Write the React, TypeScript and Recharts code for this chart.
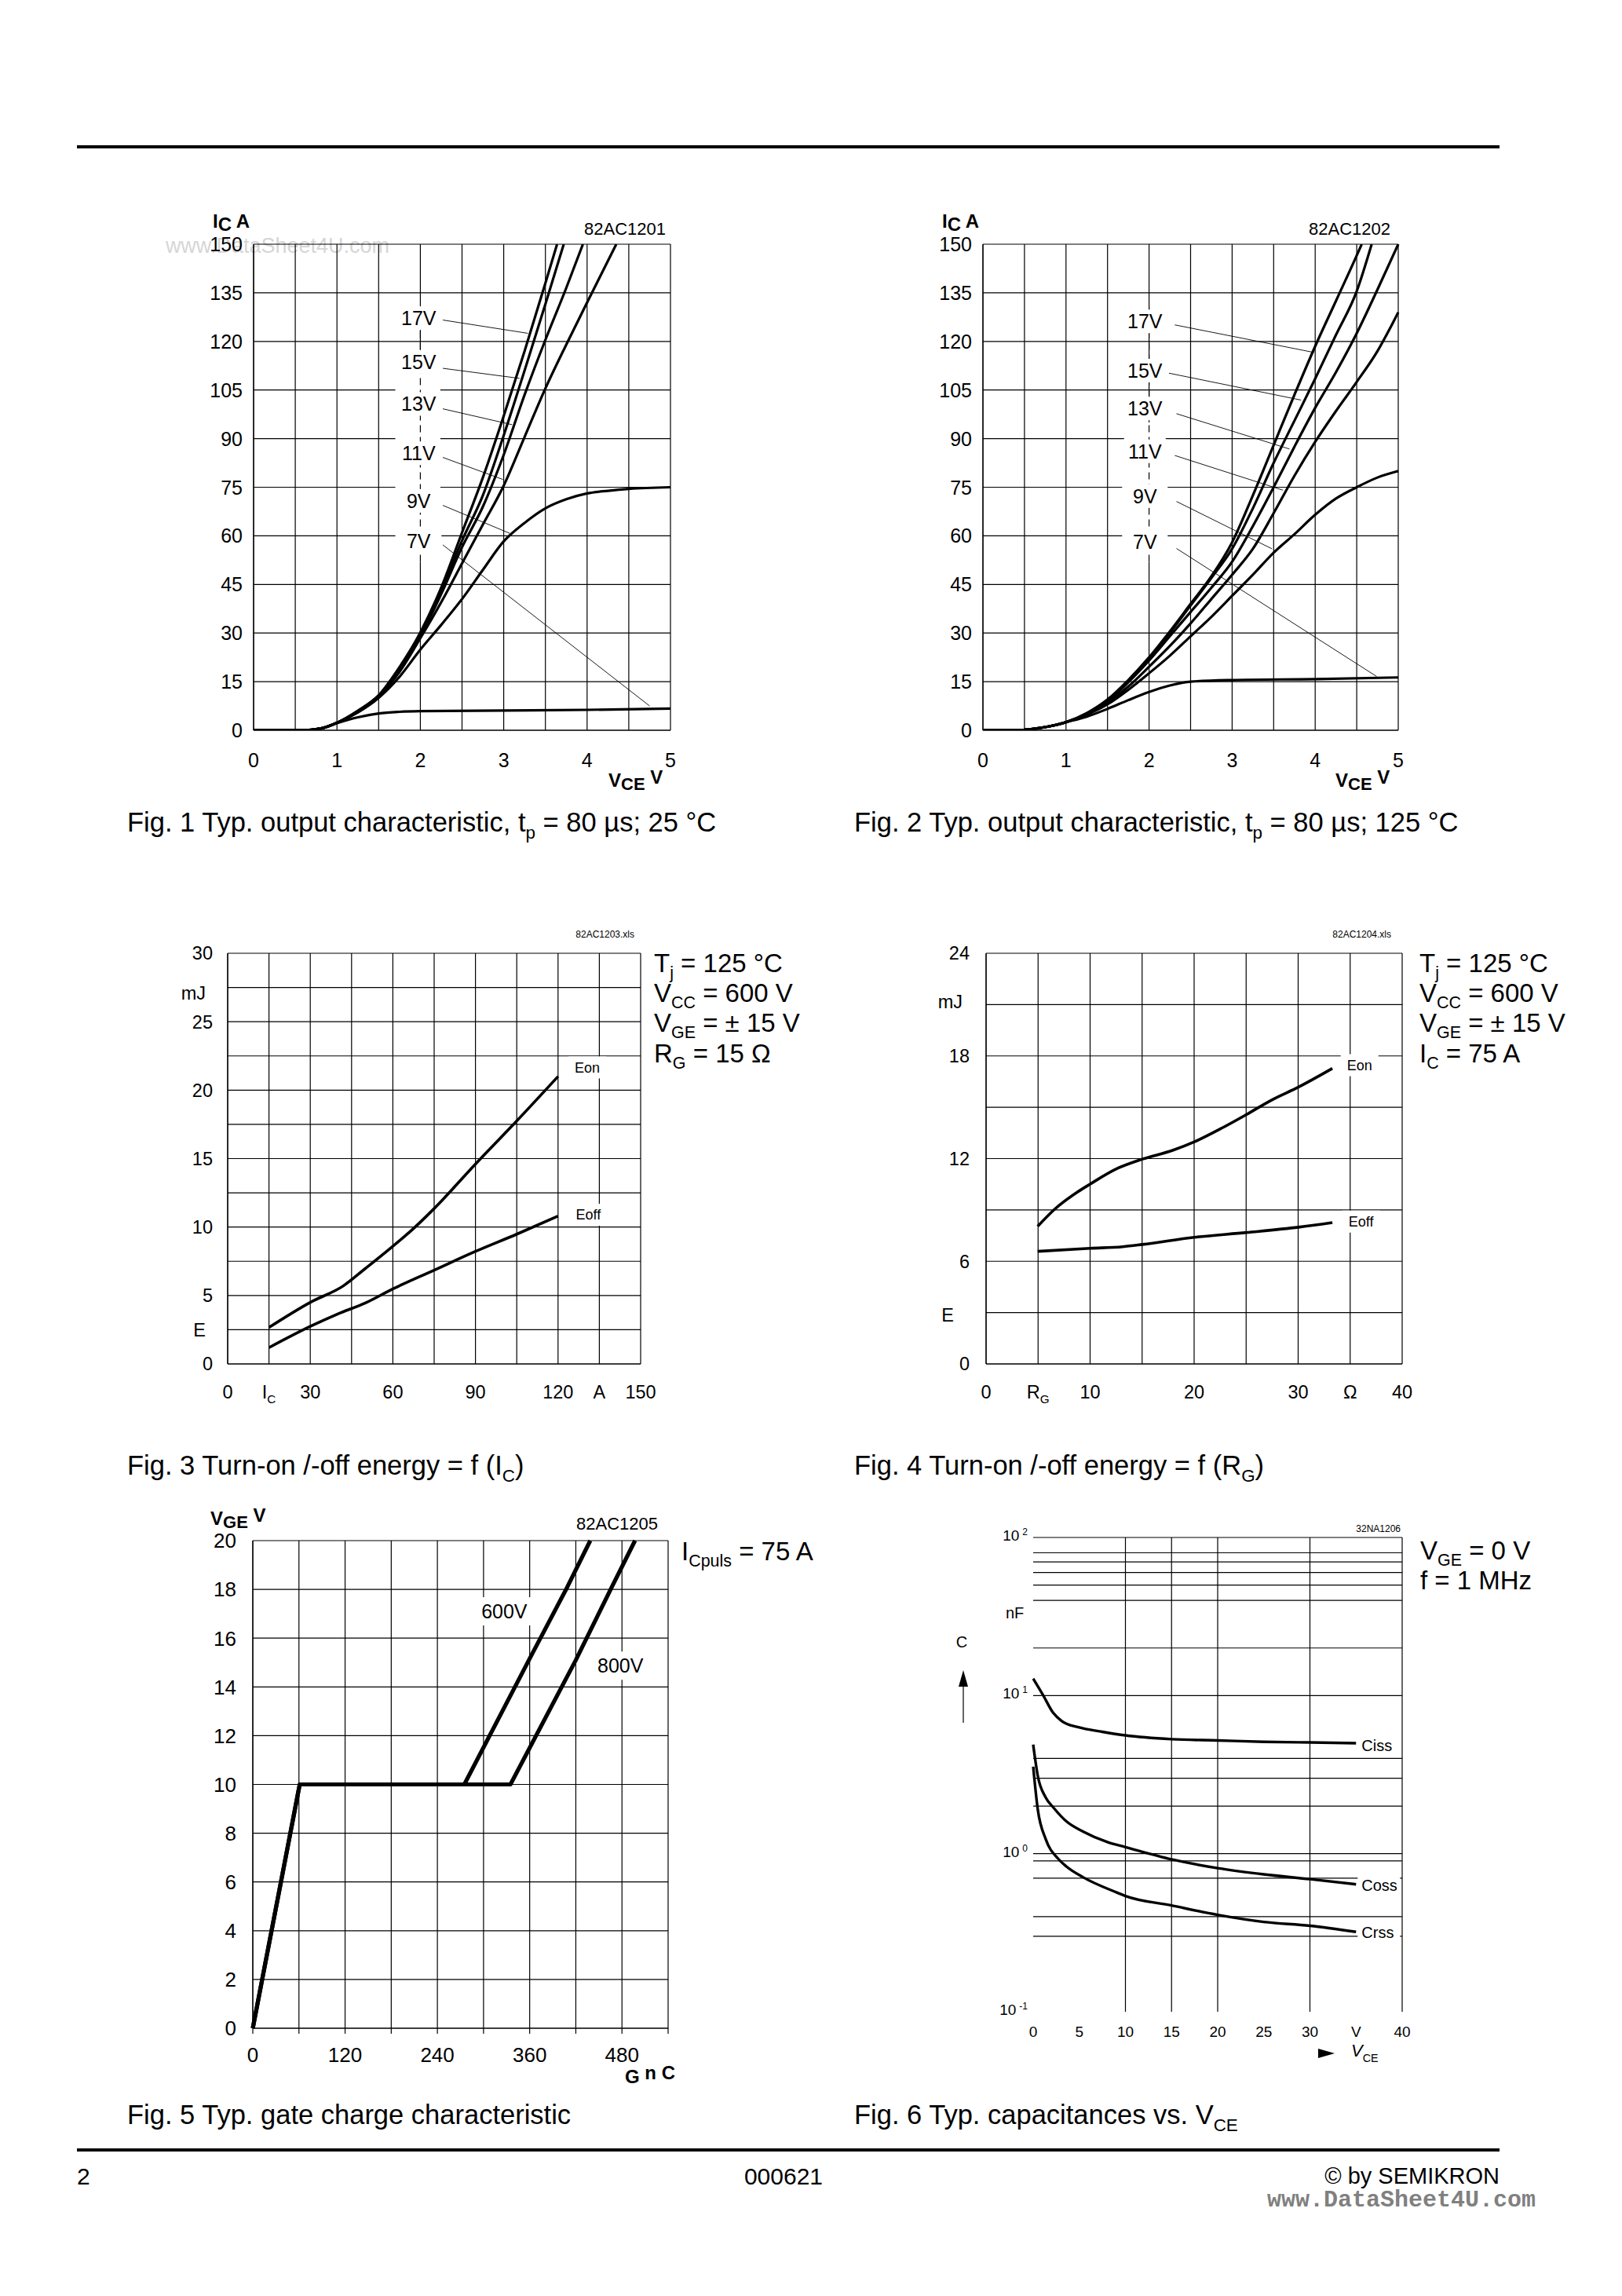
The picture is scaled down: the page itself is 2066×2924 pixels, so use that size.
import React from "react";
import { LineChart, Line, XAxis, YAxis, CartesianGrid, ReferenceLine, ReferenceDot, ReferenceArea } from "recharts";

const FONT = "'Liberation Sans', Arial, Helvetica, sans-serif";
const MONO = "'Liberation Mono', 'DejaVu Sans Mono', monospace";

type Pt = [number, number];

// ---------- Fig. 1  output characteristic 25 °C  (VCE in V, IC in A)
const fig1XTicks = [0, 0.5, 1, 1.5, 2, 2.5, 3, 3.5, 4, 4.5, 5];
const fig1YTicks = [0, 15, 30, 45, 60, 75, 90, 105, 120, 135, 150];
const fig1V17: Pt[] = [[0, 0], [0.6, 0], [0.8, 0.5], [1, 2.3], [1.25, 6], [1.5, 10.8], [1.75, 19.5], [2, 30.2], [2.25, 44], [2.5, 61], [2.75, 78], [3, 97], [3.25, 117], [3.5, 138], [3.64, 150]];
const fig1V15: Pt[] = [[0, 0], [0.6, 0], [0.8, 0.5], [1, 2.3], [1.25, 6], [1.5, 10.7], [1.75, 19.3], [2, 29.6], [2.25, 43], [2.5, 58.5], [2.75, 72.5], [3, 91], [3.25, 111], [3.5, 131.5], [3.72, 150]];
const fig1V13: Pt[] = [[0, 0], [0.6, 0], [0.8, 0.5], [1, 2.3], [1.25, 5.9], [1.5, 10.6], [1.75, 19], [2, 29], [2.25, 42], [2.5, 56.5], [2.75, 69], [3, 85], [3.25, 103.5], [3.5, 120.5], [3.75, 136.5], [3.95, 150]];
const fig1V11: Pt[] = [[0, 0], [0.6, 0], [0.8, 0.5], [1, 2.3], [1.25, 5.8], [1.5, 10.5], [1.75, 18], [2, 28.4], [2.25, 39.5], [2.5, 51.5], [2.75, 63.5], [3, 75.5], [3.25, 90.5], [3.5, 105.5], [3.75, 119], [4, 132], [4.35, 150]];
const fig1V9: Pt[] = [[0, 0], [0.6, 0], [0.8, 0.5], [1, 2.3], [1.25, 5.5], [1.5, 10], [1.75, 16.5], [2, 24.9], [2.25, 32.5], [2.5, 40.5], [2.75, 49.5], [3, 58.3], [3.25, 64], [3.5, 68.5], [3.75, 71.3], [4, 73.1], [4.25, 73.9], [4.5, 74.5], [5, 75]];
const fig1V7: Pt[] = [[0, 0], [0.6, 0], [0.8, 0.5], [1, 2.2], [1.25, 4], [1.5, 5.2], [1.75, 5.7], [2, 5.9], [3, 6.1], [4, 6.3], [5, 6.7]];
const fig1Labels = ["17V", "15V", "13V", "11V", "9V", "7V"];
const fig1LabelX = 1.98;
const fig1LabelY = [127.2, 113.7, 100.7, 85.5, 70.8, 58.3];
const fig1Leaders: Pt[][] = [
  [[2.27, 126.6], [3.29, 122.5]],
  [[2.27, 111.7], [3.19, 108.6]],
  [[2.27, 99.2], [3.1, 94.3]],
  [[2.27, 84.2], [2.99, 77.4]],
  [[2.27, 69.4], [3.07, 60.8]],
  [[2.27, 57.2], [4.75, 7.5]],
];

// ---------- Fig. 2  output characteristic 125 °C
const fig2V17: Pt[] = [[0, 0], [0.4, 0], [0.6, 0.4], [0.8, 1.2], [1, 2.5], [1.25, 5.3], [1.5, 9.5], [1.75, 15.5], [2, 22.5], [2.25, 30.5], [2.5, 39], [2.75, 47.5], [3, 58], [3.25, 72.5], [3.5, 88], [3.75, 103.5], [4, 118.5], [4.25, 132.5], [4.5, 146.5], [4.56, 150]];
const fig2V15: Pt[] = [[0, 0], [0.4, 0], [0.6, 0.4], [0.8, 1.2], [1, 2.5], [1.25, 5.2], [1.5, 9.3], [1.75, 15.2], [2, 22], [2.25, 30], [2.5, 38.5], [2.75, 47], [3, 56], [3.25, 68.5], [3.5, 82.5], [3.75, 95.5], [4, 108.5], [4.25, 122], [4.5, 135.5], [4.68, 150]];
const fig2V13: Pt[] = [[0, 0], [0.4, 0], [0.6, 0.4], [0.8, 1.2], [1, 2.5], [1.25, 5.1], [1.5, 9], [1.75, 14.8], [2, 21.5], [2.25, 29], [2.5, 36.5], [2.75, 44], [3, 52], [3.25, 63], [3.5, 75], [3.75, 87.5], [4, 99.5], [4.25, 110.5], [4.5, 122.5], [4.75, 136], [5, 150]];
const fig2V11: Pt[] = [[0, 0], [0.4, 0], [0.6, 0.4], [0.8, 1.2], [1, 2.5], [1.25, 5], [1.5, 8.5], [1.75, 13.5], [2, 19.6], [2.25, 26], [2.5, 33], [2.75, 40.5], [3, 48], [3.25, 56], [3.5, 67], [3.75, 78.5], [4, 89], [4.25, 98.5], [4.5, 107.5], [4.75, 117], [4.9, 124], [5, 129]];
const fig2V9: Pt[] = [[0, 0], [0.4, 0], [0.6, 0.4], [0.8, 1.2], [1, 2.5], [1.25, 4.8], [1.5, 8], [1.75, 12.5], [2, 17.6], [2.25, 23], [2.5, 29], [2.75, 35], [3, 41.5], [3.25, 48], [3.5, 54.8], [3.75, 60.5], [4, 66.5], [4.25, 71.5], [4.5, 75], [4.75, 78], [5, 80]];
const fig2V7: Pt[] = [[0, 0], [0.4, 0], [0.6, 0.4], [0.8, 1.2], [1, 2.5], [1.25, 4.2], [1.5, 6.6], [1.75, 9.3], [2, 11.8], [2.25, 13.8], [2.5, 15], [3, 15.5], [4, 15.8], [5, 16.3]];
const fig2LabelX = 1.95;
const fig2LabelY = [126.2, 111.0, 99.3, 86.1, 72.3, 58.2];
const fig2Leaders: Pt[][] = [
  [[2.31, 125.1], [3.985, 116.6]],
  [[2.24, 110.2], [3.83, 101.9]],
  [[2.33, 97.7], [3.69, 86.8]],
  [[2.31, 84.8], [3.61, 74.1]],
  [[2.33, 70.6], [3.48, 56]],
  [[2.33, 56.1], [4.74, 16.6]],
];

// ---------- Fig. 3  E = f(IC)
const fig3XTicks = [0, 15, 30, 45, 60, 75, 90, 105, 120, 135, 150];
const fig3YTicks = [0, 2.5, 5, 7.5, 10, 12.5, 15, 17.5, 20, 22.5, 25, 27.5, 30];
const fig3XText: Record<string, string> = { 0: "0", 15: "I_C", 30: "30", 60: "60", 90: "90", 120: "120", 135: "A", 150: "150" };
const fig3YText: Record<string, string> = { 0: "0", 2.5: "E", 5: "5", 10: "10", 15: "15", 20: "20", 25: "25", 27.5: "mJ", 30: "30" };
const fig3Eon: Pt[] = [[15, 2.67], [30, 4.5], [42, 5.7], [50, 6.97], [60, 8.6], [67, 9.8], [75, 11.35], [90, 14.6], [105, 17.75], [120, 21]];
const fig3Eoff: Pt[] = [[15, 1.19], [30, 2.74], [40, 3.65], [50, 4.45], [60, 5.48], [75, 6.85], [90, 8.22], [105, 9.48], [120, 10.8]];

// ---------- Fig. 4  E = f(RG)
const fig4XTicks = [0, 5, 10, 15, 20, 25, 30, 35, 40];
const fig4YTicks = [0, 3, 6, 9, 12, 15, 18, 21, 24];
const fig4XText: Record<string, string> = { 0: "0", 5: "R_G", 10: "10", 20: "20", 30: "30", 35: "Ω", 40: "40" };
const fig4YText: Record<string, string> = { 0: "0", 3: "E", 6: "6", 12: "12", 18: "18", 21: "mJ", 24: "24" };
const fig4Eon: Pt[] = [[4.96, 8.04], [6.61, 9.05], [8.79, 10.05], [10, 10.51], [12.71, 11.45], [15.01, 11.97], [17.93, 12.48], [20.02, 12.98], [22.72, 13.8], [25.02, 14.57], [27.5, 15.44], [30.03, 16.18], [33.29, 17.27]];
const fig4Eoff: Pt[] = [[4.96, 6.58], [10, 6.76], [13.14, 6.85], [15.01, 6.98], [20.02, 7.4], [25.02, 7.68], [30.03, 7.99], [33.29, 8.26]];

// ---------- Fig. 5  gate charge  (QG nC, VGE V)
const fig5XTicks = [0, 60, 120, 180, 240, 300, 360, 420, 480, 540];
const fig5YTicks = [0, 2, 4, 6, 8, 10, 12, 14, 16, 18, 20];
const fig5V600: Pt[] = [[0, 0], [61, 10], [275, 10], [359, 15.1], [408.5, 18.07], [438.8, 20]];
const fig5V800: Pt[] = [[0, 0], [61, 10], [335, 10], [420, 15.1], [466.4, 18.07], [497, 20]];

// ---------- Fig. 6  capacitances (VCE V, C nF)
const fig6XTicks = [0, 5, 10, 15, 20, 25, 30, 35, 40];
const fig6YTicks = [0.1, 1, 10, 100];
const fig6Exp: Record<string, string> = { 0.1: "-1", 1: "0", 10: "1", 100: "2" };
const fig6GridC = [100, 80, 70, 60, 50, 40, 20, 10, 4, 3, 2, 1, 0.9, 0.7, 0.4, 0.3];
const fig6GridV = [10, 15, 20, 30, 40];
const fig6Ciss: Pt[] = [[0, 12.8], [1.1, 10], [2.15, 7.8], [3.1, 6.9], [4.9, 6.3], [7.5, 5.9], [10, 5.6], [15, 5.3], [20, 5.2], [25, 5.1], [30, 5.05], [35, 5.0]];
const fig6Coss: Pt[] = [[0, 4.9], [0.5, 3.1], [1.35, 2.27], [2.25, 1.94], [3.6, 1.6], [5.4, 1.38], [8.1, 1.18], [10, 1.1], [15, 0.92], [20, 0.81], [25, 0.74], [30, 0.69], [35, 0.64]];
const fig6Crss: Pt[] = [[0, 3.55], [0.5, 1.9], [1.35, 1.24], [2.7, 0.93], [3.6, 0.83], [5.4, 0.71], [9, 0.57], [10, 0.54], [15, 0.47], [20, 0.41], [25, 0.37], [30, 0.35], [35, 0.32]];
const fig6Labels = ["Ciss", "Coss", "Crss"];
const fig6LabelY = [4.85, 0.63, 0.317];

const pts = (a: Pt[]) => a.map(([x, y]) => ({ x, y }));

type Box = { x: number; y: number; w: number; h: number };
const BOX1: Box = { x: 322.5, y: 311, w: 531, h: 619 };
const BOX2: Box = { x: 1251.7, y: 311, w: 529, h: 619 };
const BOX3: Box = { x: 290, y: 1214, w: 526, h: 523 };
const BOX4: Box = { x: 1256, y: 1214, w: 530, h: 523 };
const BOX5: Box = { x: 322, y: 1962, w: 529, h: 621 };
const BOX6: Box = { x: 1316, y: 1958, w: 470, h: 604 };

const ML = 120, MR = 40, MT = 40, MB = 80;

function Frame({ box, children }: { box: Box; children: React.ReactNode }) {
  return (
    <div style={{ position: "absolute", left: box.x - ML, top: box.y - MT }}>
      <LineChart width={box.w + ML + MR} height={box.h + MT + MB} margin={{ top: MT, right: MR, bottom: 0, left: 0 }}>
        {children}
      </LineChart>
    </div>
  );
}

function rich(s: string, fs: number) {
  const [a, b] = s.split("_");
  if (!b) return a;
  return (
    <>
      <tspan>{a}</tspan>
      <tspan fontSize={fs * 0.65} dy={fs * 0.22}>{b}</tspan>
    </>
  );
}

const xTick = (fs: number, fmt: (v: number) => string) => (p: any) => (
  <text x={p.x} y={p.y} dy={fs * 0.36} textAnchor="middle" fontSize={fs} fontFamily={FONT} fill="#000">
    {rich(fmt(p.payload.value), fs)}
  </text>
);

const yTick = (fs: number, fmt: (v: number) => string, nudge?: (v: number) => [number, number]) => (p: any) => {
  const v = p.payload.value;
  const [dx, dy] = nudge ? nudge(v) : [0, 0];
  return (
    <text x={p.x + dx} y={p.y + dy} dy={fs * 0.36} textAnchor="end" fontSize={fs} fontFamily={FONT} fill="#000">
      {fmt(v)}
    </text>
  );
};

const tag = (text: string, fs: number, w: number, h: number, start = false) => (p: any) => {
  const { cx, cy } = p;
  const left = start ? cx - 5 : cx - w / 2;
  return (
    <g>
      <rect x={left} y={cy - h / 2} width={w} height={h} fill="#fff" />
      <text x={cx} y={cy + fs * 0.36} fontSize={fs} textAnchor={start ? "start" : "middle"} fontFamily={FONT} fill="#000">
        {text}
      </text>
    </g>
  );
};

const AX = { stroke: "#000", strokeWidth: 1.2 };

function curve(key: string, data: Pt[], w: number, type: "monotone" | "linear" = "monotone") {
  return (
    <Line
      key={key}
      data={pts(data)}
      dataKey="y"
      type={type}
      stroke="#000"
      strokeWidth={w}
      strokeLinejoin="round"
      dot={false}
      activeDot={false}
      isAnimationActive={false}
    />
  );
}

function OutputChart({ box, series, labelX, labelY, leaders, blankY, blankX }: { box: Box; series: Pt[][]; labelX: number; labelY: number[]; leaders: Pt[][]; blankY: [number, number]; blankX: number }) {
  return (
    <Frame box={box}>
      <CartesianGrid stroke="#000" strokeWidth={1.2} />
      <XAxis type="number" dataKey="x" domain={[0, 5]} ticks={fig1XTicks} interval={0} height={MB} axisLine={AX} tickLine={false} tickSize={0} tickMargin={38} tick={xTick(25, (v) => (Number.isInteger(v) ? String(v) : ""))} />
      <YAxis type="number" domain={[0, 150]} ticks={fig1YTicks} interval={0} width={ML} allowDataOverflow axisLine={AX} tickLine={false} tickSize={0} tickMargin={14} tick={yTick(25, (v) => String(v))} />
      <ReferenceArea x1={1.7} x2={blankX} y1={blankY[0]} y2={blankY[1]} fill="#fff" fillOpacity={1} stroke="none" ifOverflow="visible" />
      <ReferenceLine segment={[{ x: 2, y: 52 }, { x: 2, y: 131 }]} stroke="#000" strokeWidth={1.2} strokeDasharray="9 6" ifOverflow="visible" />
      {series.map((s, i) => curve("c" + i, s, 3.2))}
      {leaders.map((l, i) => (
        <ReferenceLine key={"l" + i} segment={[{ x: l[0][0], y: l[0][1] }, { x: l[1][0], y: l[1][1] }]} stroke="#000" strokeWidth={0.9} ifOverflow="visible" />
      ))}
      {fig1Labels.map((t, i) => (
        <ReferenceDot key={t} x={labelX} y={labelY[i]} r={0} ifOverflow="visible" shape={tag(t, 25, 58, 30)} />
      ))}
    </Frame>
  );
}

function Fig3() {
  return (
    <Frame box={BOX3}>
      <CartesianGrid stroke="#000" strokeWidth={1.2} />
      <XAxis type="number" dataKey="x" domain={[0, 150]} ticks={fig3XTicks} interval={0} height={MB} axisLine={AX} tickLine={false} tickSize={0} tickMargin={36} tick={xTick(23.5, (v) => fig3XText[v] ?? "")} />
      <YAxis type="number" domain={[0, 30]} ticks={fig3YTicks} interval={0} width={ML} axisLine={AX} tickLine={false} tickSize={0} tickMargin={19} tick={yTick(23.5, (v) => fig3YText[v] ?? "", (v) => (v === 27.5 ? [-9, 7] : v === 2.5 ? [-9, 0] : [0, 0]))} />
      {curve("on", fig3Eon, 3.6)}
      {curve("off", fig3Eoff, 3.6)}
      <ReferenceDot x={130.6} y={21.66} r={0} ifOverflow="visible" shape={tag("Eon", 18, 48, 28)} />
      <ReferenceDot x={131} y={10.9} r={0} ifOverflow="visible" shape={tag("Eoff", 18, 48, 28)} />
    </Frame>
  );
}

function Fig4() {
  return (
    <Frame box={BOX4}>
      <CartesianGrid stroke="#000" strokeWidth={1.2} />
      <XAxis type="number" dataKey="x" domain={[0, 40]} ticks={fig4XTicks} interval={0} height={MB} axisLine={AX} tickLine={false} tickSize={0} tickMargin={36} tick={xTick(23.5, (v) => fig4XText[v] ?? "")} />
      <YAxis type="number" domain={[0, 24]} ticks={fig4YTicks} interval={0} width={ML} axisLine={AX} tickLine={false} tickSize={0} tickMargin={21} tick={yTick(23.5, (v) => fig4YText[v] ?? "", (v) => (v === 21 ? [-9, -4] : v === 3 ? [-20, 3] : [0, 0]))} />
      {curve("on", fig4Eon, 3.6)}
      {curve("off", fig4Eoff, 3.6)}
      <ReferenceDot x={35.9} y={17.46} r={0} ifOverflow="visible" shape={tag("Eon", 18, 48, 28)} />
      <ReferenceDot x={36.05} y={8.32} r={0} ifOverflow="visible" shape={tag("Eoff", 18, 48, 28)} />
    </Frame>
  );
}

function Fig5() {
  return (
    <Frame box={BOX5}>
      <CartesianGrid stroke="#000" strokeWidth={1.2} />
      <XAxis type="number" dataKey="x" domain={[0, 540]} ticks={fig5XTicks} interval={0} height={MB} axisLine={AX} tickLine={AX} tickSize={7} tickMargin={27} tick={xTick(26, (v) => (v % 120 === 0 && v < 540 ? String(v) : ""))} />
      <YAxis type="number" domain={[0, 20]} ticks={fig5YTicks} interval={0} width={ML} axisLine={AX} tickLine={false} tickSize={0} tickMargin={21} tick={yTick(26, (v) => String(v))} />
      {curve("v600", fig5V600, 5.2, "linear")}
      {curve("v800", fig5V800, 5.2, "linear")}
      <ReferenceDot x={327} y={17.1} r={0} ifOverflow="visible" shape={tag("600V", 25, 70, 36)} />
      <ReferenceDot x={478} y={14.87} r={0} ifOverflow="visible" shape={tag("800V", 25, 70, 36)} />
    </Frame>
  );
}

function Fig6() {
  return (
    <Frame box={BOX6}>
      <XAxis type="number" dataKey="x" domain={[0, 40]} ticks={fig6XTicks} interval={0} height={MB} axisLine={false} tickLine={false} tickSize={0} tickMargin={25} tick={xTick(19, (v) => (v === 35 ? "V" : String(v)))} />
      <YAxis
        type="number"
        scale="log"
        domain={[0.1, 100]}
        ticks={fig6YTicks}
        interval={0}
        width={ML}
        allowDataOverflow
        axisLine={false}
        tickLine={false}
        tickSize={0}
        tickMargin={7}
        tick={(p: any) => (
          <text x={p.x} y={p.y - 3} dy={19 * 0.36} textAnchor="end" fontSize={19} fontFamily={FONT} fill="#000">
            <tspan>10</tspan>
            <tspan fontSize={12} dx={4} dy={-7}>{fig6Exp[p.payload.value]}</tspan>
          </text>
        )}
      />
      {fig6GridC.map((c) => (
        <ReferenceLine key={"h" + c} y={c} stroke="#000" strokeWidth={1.2} ifOverflow="visible" />
      ))}
      {fig6GridV.map((v) => (
        <ReferenceLine key={"v" + v} x={v} stroke="#000" strokeWidth={1.2} ifOverflow="visible" />
      ))}
      {curve("ciss", fig6Ciss, 3.4)}
      {curve("coss", fig6Coss, 3.4)}
      {curve("crss", fig6Crss, 3.4)}
      {fig6Labels.map((t, i) => (
        <ReferenceDot key={t} x={35.6} y={fig6LabelY[i]} r={0} ifOverflow="visible" shape={tag(t, 20, 54, 26, true)} />
      ))}
    </Frame>
  );
}

function Tx({ x, y, fs, anchor = "start", weight = 400, fill = "#000", family = FONT, children }: any) {
  return (
    <text x={x} y={y + fs * 0.36} fontSize={fs} textAnchor={anchor} fontWeight={weight} fill={fill} fontFamily={family}>
      {children}
    </text>
  );
}

const Sub = ({ t, fs, drop = 0.25, scale = 0.65 }: { t: string; fs: number; drop?: number; scale?: number }) => (
  <tspan fontSize={fs * scale} dy={fs * drop}>{t}</tspan>
);
const Back = ({ t, fs, drop = 0.25 }: { t: string; fs: number; drop?: number }) => <tspan dy={-fs * drop}>{t}</tspan>;

function Page() {
  const cap = 34.5;
  const par = 33;
  return (
    <svg width={2066} height={2924} style={{ position: "absolute", left: 0, top: 0 }}>
      <rect x={0} y={0} width={2066} height={2924} fill="#fff" />
      <rect x={98} y={185} width={1812} height={4} fill="#000" />
      <rect x={98} y={2736} width={1812} height={4} fill="#000" />

      <Tx x={496} y={312} fs={27} anchor="end" fill="#d6d6d6">www.DataSheet4U.com</Tx>

      {/* Fig 1 */}
      <Tx x={271} y={281} fs={24} weight={700}>I<tspan dy={4}>C</tspan><tspan dy={-4}> A</tspan></Tx>
      <Tx x={848} y={291} fs={22} anchor="end">82AC1201</Tx>
      <Tx x={775} y={993} fs={24} weight={700}>V<tspan fontSize={22} dy={4}>CE</tspan><tspan dy={-8}> V</tspan></Tx>
      <Tx x={162} y={1047} fs={cap}>Fig. 1 Typ. output characteristic, t<Sub t="p" fs={cap} /><Back t=" = 80 µs; 25 °C" fs={cap} /></Tx>

      {/* Fig 2 */}
      <Tx x={1200} y={281} fs={24} weight={700}>I<tspan dy={4}>C</tspan><tspan dy={-4}> A</tspan></Tx>
      <Tx x={1771} y={291} fs={22} anchor="end">82AC1202</Tx>
      <Tx x={1701} y={993} fs={24} weight={700}>V<tspan fontSize={22} dy={4}>CE</tspan><tspan dy={-8}> V</tspan></Tx>
      <Tx x={1088} y={1047} fs={cap}>Fig. 2 Typ. output characteristic, t<Sub t="p" fs={cap} /><Back t=" = 80 µs; 125 °C" fs={cap} /></Tx>

      {/* Fig 3 */}
      <Tx x={808} y={1190} fs={12} anchor="end">82AC1203.xls</Tx>
      <Tx x={833} y={1226} fs={par}>T<Sub t="j" fs={par} /><Back t=" = 125 °C" fs={par} /></Tx>
      <Tx x={833} y={1264} fs={par}>V<Sub t="CC" fs={par} /><Back t=" = 600 V" fs={par} /></Tx>
      <Tx x={833} y={1302} fs={par}>V<Sub t="GE" fs={par} /><Back t=" = ± 15 V" fs={par} /></Tx>
      <Tx x={833} y={1341} fs={par}>R<Sub t="G" fs={par} /><Back t=" = 15 Ω" fs={par} /></Tx>
      <Tx x={162} y={1866} fs={cap}>Fig. 3 Turn-on /-off energy = f (I<Sub t="C" fs={cap} /><Back t=")" fs={cap} /></Tx>

      {/* Fig 4 */}
      <Tx x={1772} y={1190} fs={12} anchor="end">82AC1204.xls</Tx>
      <Tx x={1808} y={1226} fs={par}>T<Sub t="j" fs={par} /><Back t=" = 125 °C" fs={par} /></Tx>
      <Tx x={1808} y={1264} fs={par}>V<Sub t="CC" fs={par} /><Back t=" = 600 V" fs={par} /></Tx>
      <Tx x={1808} y={1302} fs={par}>V<Sub t="GE" fs={par} /><Back t=" = ± 15 V" fs={par} /></Tx>
      <Tx x={1808} y={1341} fs={par}>I<Sub t="C" fs={par} /><Back t=" = 75 A" fs={par} /></Tx>
      <Tx x={1088} y={1866} fs={cap}>Fig. 4 Turn-on /-off energy = f (R<Sub t="G" fs={cap} /><Back t=")" fs={cap} /></Tx>

      {/* Fig 5 */}
      <Tx x={268} y={1933} fs={24} weight={700}>V<tspan fontSize={22} dy={4}>GE</tspan><tspan dy={-8}> V</tspan></Tx>
      <Tx x={838} y={1940} fs={22} anchor="end">82AC1205</Tx>
      <Tx x={868} y={1975} fs={par}>I<Sub t="Cpuls" fs={par} /><Back t=" = 75 A" fs={par} /></Tx>
      <Tx x={796} y={2644} fs={24} weight={700}>G<tspan dy={-5}> n C</tspan></Tx>
      <Tx x={162} y={2693} fs={cap}>Fig. 5 Typ. gate charge characteristic</Tx>

      {/* Fig 6 */}
      <Tx x={1784} y={1947} fs={12} anchor="end">32NA1206</Tx>
      <Tx x={1809} y={1974} fs={par}>V<Sub t="GE" fs={par} /><Back t=" = 0 V" fs={par} /></Tx>
      <Tx x={1809} y={2012} fs={par}>f = 1 MHz</Tx>
      <Tx x={1281} y={2054} fs={20}>nF</Tx>
      <Tx x={1225} y={2091} fs={20} anchor="middle">C</Tx>
      <polygon points="1227,2127 1221,2148 1233,2148" fill="#000" />
      <line x1={1227} y1={2146} x2={1227} y2={2194} stroke="#000" strokeWidth={1.2} />
      <polygon points="1679,2609 1700,2615 1679,2621" fill="#000" />
      <Tx x={1721} y={2611} fs={22}><tspan fontStyle="italic">V</tspan><Sub t="CE" fs={22} drop={0.3} /></Tx>
      <Tx x={1088} y={2693} fs={cap}>Fig. 6 Typ. capacitances vs. V<Sub t="CE" fs={cap} /></Tx>

      {/* footer */}
      <Tx x={98} y={2771} fs={30}>2</Tx>
      <Tx x={998} y={2771} fs={30} anchor="middle">000621</Tx>
      <Tx x={1910} y={2771} fs={29} anchor="end">© by SEMIKRON</Tx>
      <Tx x={1614} y={2799} fs={30} weight={700} fill="#808080" family={MONO}>www.DataSheet4U.com</Tx>
    </svg>
  );
}

export default function App() {
  return (
    <div style={{ position: "absolute", left: 0, top: 0, width: 2066, height: 2924, background: "#fff", fontFamily: FONT }}>
      <Page />
      <OutputChart box={BOX1} series={[fig1V17, fig1V15, fig1V13, fig1V11, fig1V9, fig1V7]} labelX={fig1LabelX} labelY={fig1LabelY} leaders={fig1Leaders} blankY={[52, 116]} blankX={2.24} />
      <OutputChart box={BOX2} series={[fig2V17, fig2V15, fig2V13, fig2V11, fig2V9, fig2V7]} labelX={fig2LabelX} labelY={fig2LabelY} leaders={fig2Leaders} blankY={[52, 95]} blankX={2.2} />
      <Fig3 />
      <Fig4 />
      <Fig5 />
      <Fig6 />
    </div>
  );
}
